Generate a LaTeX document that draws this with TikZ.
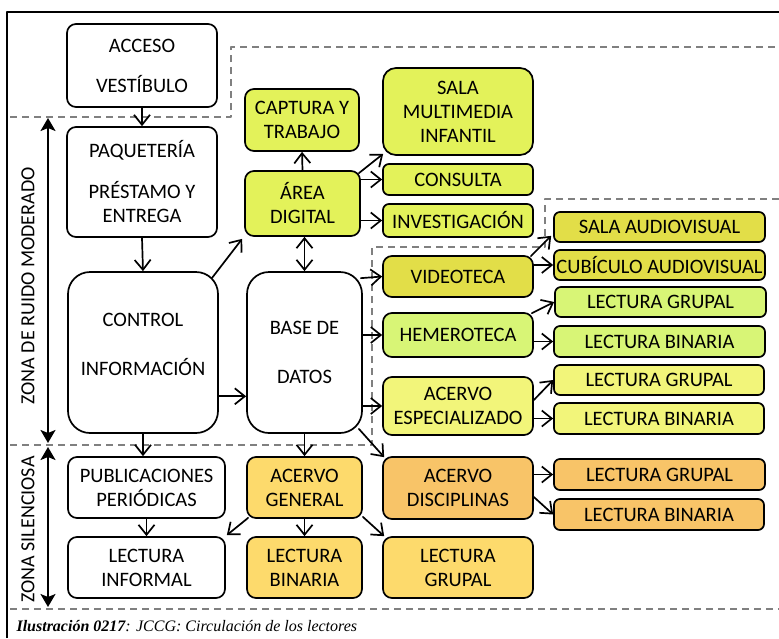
\documentclass[tikz,border=0pt]{standalone}
\usepackage{fontspec}
\setmainfont{Carlito}
\newfontfamily\piefont{Liberation Serif}
\usetikzlibrary{arrows.meta,calc}

\definecolor{verdeLima}{RGB}{227,242,90}
\definecolor{oliva}{RGB}{226,222,72}
\definecolor{verdeClaro}{RGB}{216,245,118}
\definecolor{amarillo}{RGB}{242,245,122}
\definecolor{naranja}{RGB}{248,196,104}
\definecolor{ocre}{RGB}{253,218,108}

\begin{document}
\begin{tikzpicture}[x=1pt,y=-1pt,>={Straight Barb[length=10pt,width=16pt]},line cap=round,line join=round,
  caja/.style={draw,line width=1.7pt,rounded corners=9pt,align=center,inner sep=1pt,font=\fontsize{20.5}{24}\selectfont},
  flecha/.style={->,line width=1.7pt},
  zona/.style={{Stealth[length=13pt,width=15pt,inset=3pt]}-{Stealth[length=13pt,width=15pt,inset=3pt]},line width=1.9pt},
  limite/.style={dash pattern=on 7pt off 5pt,line width=1.6pt,line cap=butt,black!50}]
\useasboundingbox (0,0) rectangle (779,638);
\draw[line width=2pt,line cap=butt] (7,638) -- (7,12) -- (779,12);
\draw[limite] (10,117) -- (231,117) -- (231,47) -- (779,47);
\draw[limite] (10,445) -- (372,445) -- (372,247) -- (545,247) -- (545,199) -- (779,199);
\draw[limite] (10,609) -- (779,609);
\coordinate (ruidoA) at (48,118);
\coordinate (ruidoB) at (48,443);
\coordinate (silA) at (48,447);
\coordinate (silB) at (48,607);
\draw[zona] (ruidoA) -- (ruidoB);
\draw[zona] (silA) -- (silB);
\node[rotate=90,font=\fontsize{20}{24}\selectfont] (zonaRuido) at (28,286) {ZONA DE RUIDO MODERADO};
\node[rotate=90,font=\fontsize{20}{24}\selectfont] (zonaSil) at (28,529.5) {ZONA SILENCIOSA};
\node[caja,minimum width=150pt,minimum height=83pt] (acceso) at (142,65.5) {ACCESO\\[16pt]VESTÍBULO};
\node[caja,minimum width=150pt,minimum height=110pt] (paqueteria) at (142,182) {PAQUETERÍA\\[17pt]PRÉSTAMO Y\\ENTREGA};
\node[caja,rounded corners=22pt,minimum width=150pt,minimum height=161pt] (control) at (143,352.5) {CONTROL\\[25pt]INFORMACIÓN\\[-8pt]\mbox{}};
\node[caja,fill=verdeLima,minimum width=114pt,minimum height=62pt] (captura) at (302,120) {CAPTURA Y\\TRABAJO};
\node[caja,fill=verdeLima,minimum width=115pt,minimum height=65pt] (area) at (302.5,203.5) {ÁREA\\DIGITAL};
\node[caja,rounded corners=22pt,minimum width=115pt,minimum height=161pt] (base) at (304.5,352.5) {BASE DE\\[25pt]DATOS};
\node[caja,fill=verdeLima,rounded corners=13pt,minimum width=150pt,minimum height=87pt] (sala) at (458,111.5) {SALA\\MULTIMEDIA\\INFANTIL};
\node[caja,fill=verdeLima,rounded corners=6pt,minimum width=150pt,minimum height=31pt] (consulta) at (458,179.5) {CONSULTA};
\node[caja,fill=verdeLima,rounded corners=6pt,minimum width=150pt,minimum height=33pt] (investigacion) at (458,220.5) {INVESTIGACIÓN};
\node[caja,fill=oliva,minimum width=150pt,minimum height=41pt] (videoteca) at (458,276.5) {VIDEOTECA};
\node[caja,fill=verdeClaro,minimum width=150pt,minimum height=44pt] (hemeroteca) at (458,335) {HEMEROTECA};
\node[caja,fill=amarillo,minimum width=150pt,minimum height=58pt] (especializado) at (458,406) {ACERVO\\ESPECIALIZADO};
\node[caja,fill=naranja,minimum width=150pt,minimum height=62pt] (disciplinas) at (458,488) {ACERVO\\DISCIPLINAS};
\node[caja,fill=ocre,minimum width=150pt,minimum height=61pt] (lgGeneral) at (458,567.5) {LECTURA\\GRUPAL};
\node[caja,fill=oliva,rounded corners=6pt,minimum width=211pt,minimum height=30pt] (salaAV) at (659.5,227) {SALA AUDIOVISUAL};
\node[caja,fill=oliva,rounded corners=6pt,minimum width=211pt,minimum height=30pt] (cubiculo) at (659.5,265) {CUBÍCULO AUDIOVISUAL};
\node[caja,fill=verdeClaro,rounded corners=6pt,minimum width=211pt,minimum height=30pt] (lgVerde) at (660.5,302) {LECTURA GRUPAL};
\node[caja,fill=verdeClaro,rounded corners=6pt,minimum width=211pt,minimum height=31pt] (lbVerde) at (659.5,341.5) {LECTURA BINARIA};
\node[caja,fill=amarillo,rounded corners=6pt,minimum width=210pt,minimum height=30pt] (lgAmarillo) at (659,380) {LECTURA GRUPAL};
\node[caja,fill=amarillo,rounded corners=6pt,minimum width=210pt,minimum height=31pt] (lbAmarillo) at (659,418.5) {LECTURA BINARIA};
\node[caja,fill=naranja,rounded corners=6pt,minimum width=211pt,minimum height=31pt] (lgNaranja) at (659.5,474.5) {LECTURA GRUPAL};
\node[caja,fill=naranja,rounded corners=6pt,minimum width=210pt,minimum height=31pt] (lbNaranja) at (659,514.5) {LECTURA BINARIA};
\node[caja,minimum width=157pt,minimum height=61pt] (publicaciones) at (146.5,487.5) {PUBLICACIONES\\PERIÓDICAS};
\node[caja,minimum width=157pt,minimum height=61pt] (informal) at (146.5,567.5) {LECTURA\\INFORMAL};
\node[caja,fill=ocre,minimum width=115pt,minimum height=61pt] (general) at (304.5,487.5) {ACERVO\\GENERAL};
\node[caja,fill=ocre,minimum width=115pt,minimum height=61pt] (lbGeneral) at (304.5,567.5) {LECTURA\\BINARIA};
\draw[flecha] (acceso.south) -- (paqueteria.north);
\draw[flecha] (paqueteria.south) -- (control.north);
\draw[flecha] ($(control.north east)+(-7,7)$) -- ($(area.south west)+(-2,2)$);
\draw[flecha] (control.-30) -- (control.-30 -| base.west);
\draw[flecha] (control.south) -- (control.south |- publicaciones.north);
\draw[flecha] (area.north) -- (captura.south);
\draw[<->,line width=1.7pt] (base.north) -- (base.north |- area.south);
\draw[flecha] ($(area.north east)+(-2,3)$) -- ($(sala.south west)+(1,-2)$);
\draw[flecha] (consulta.west -| area.east) -- (consulta.west);
\draw[flecha] (investigacion.west -| area.east) -- (investigacion.west);
\draw[flecha] ($(base.north east)+(-2,7)$) -- (videoteca.west);
\draw[flecha] (hemeroteca.west -| base.east) -- (hemeroteca.west);
\draw[flecha] (especializado.west -| base.east) -- (especializado.west);
\draw[flecha] ($(base.south east)+(-4,-5)$) -- ($(disciplinas.north west)+(2,1)$);
\draw[flecha] (base.south) -- (base.south |- general.north);
\draw[flecha] ($(videoteca.north east)+(-3,1)$) -- ($(salaAV.south west)+(-2,-7)$);
\draw[flecha] (cubiculo.west -| videoteca.east) -- (cubiculo.west);
\draw[flecha] ($(hemeroteca.north east)+(-2,1)$) -- (lgVerde.west);
\draw[flecha] (lbVerde.west -| hemeroteca.east) -- (lbVerde.west);
\draw[flecha] ($(especializado.east)+(0,-6)$) -- (lgAmarillo.west);
\draw[flecha] (lbAmarillo.west -| especializado.east) -- (lbAmarillo.west);
\draw[flecha] (lgNaranja.west -| disciplinas.east) -- (lgNaranja.west);
\draw[flecha] ($(disciplinas.east)+(0,9)$) -- (lbNaranja.west);
\draw[flecha] (publicaciones.south) -- (informal.north);
\draw[flecha] ($(general.south west)+(2,-1)$) -- ($(informal.north east)+(1,-1)$);
\draw[flecha] (general.south) -- (lbGeneral.north);
\draw[flecha] ($(general.south east)+(0,-2)$) -- ($(lgGeneral.north west)+(2,0)$);
\node[anchor=base west,font=\piefont\itshape\fontsize{16}{18}\selectfont] (pie) at (13,631) {\textbf{Ilustración 0217}: JCCG: Circulación de los lectores};
\end{tikzpicture}
\end{document}
